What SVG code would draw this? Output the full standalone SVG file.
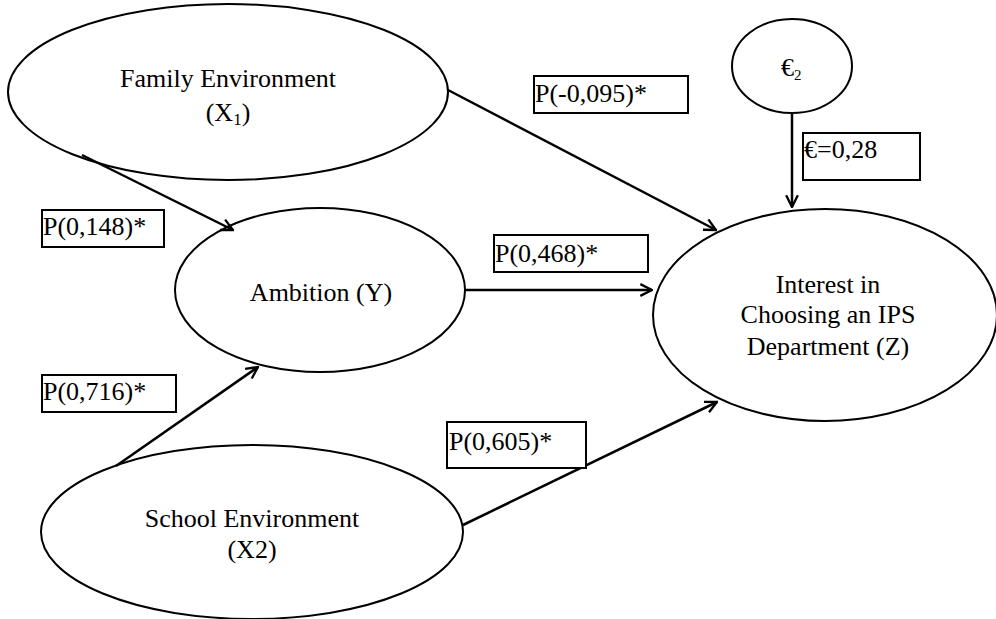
<svg xmlns="http://www.w3.org/2000/svg" width="996" height="619" viewBox="0 0 996 619">
<defs>
<style>
.node{fill:#fff;stroke:#000;stroke-width:2}
.t{font-family:"Liberation Serif","Times New Roman",serif;font-size:26px;fill:#000}
.c{text-anchor:middle}
.box{fill:#fff;stroke:#000;stroke-width:2}
.edge{stroke:#000;stroke-width:2.5;fill:none;marker-end:url(#arr)}
</style>
<marker id="arr" viewBox="0 0 12 12" refX="11" refY="6" markerWidth="14" markerHeight="14" markerUnits="userSpaceOnUse" orient="auto">
<path d="M1,1 L11,6 L1,11" fill="none" stroke="#000" stroke-width="2"/>
</marker>
</defs>
<rect width="996" height="619" fill="#fff"/>
<g id="family">
<ellipse class="node" cx="228" cy="92" rx="220" ry="88"/>
<text class="t c" x="228" y="87">Family Environment</text>
<text class="t c" x="228" y="121">(X<tspan font-size="17" dy="4">1</tspan><tspan dy="-4">)</tspan></text>
</g>
<g id="epsilon">
<ellipse class="node" cx="792" cy="66" rx="60" ry="47"/>
<text class="t" x="781" y="76">€<tspan font-size="15" dy="4">2</tspan></text>
</g>
<g id="ambition">
<ellipse class="node" cx="320" cy="290" rx="145" ry="82"/>
<text class="t c" x="321" y="301">Ambition (Y)</text>
</g>
<g id="interest">
<ellipse class="node" cx="825" cy="315" rx="172" ry="106"/>
<text class="t c" x="828" y="293">Interest in</text>
<text class="t c" x="828" y="323">Choosing an IPS</text>
<text class="t c" x="828" y="355">Department (Z)</text>
</g>
<g id="school">
<ellipse class="node" cx="252" cy="532" rx="211" ry="87"/>
<text class="t c" x="252" y="527">School Environment</text>
<text class="t c" x="252" y="558">(X2)</text>
</g>
<g id="connectors">
<line class="edge" x1="448" y1="90" x2="716" y2="230"/>
<line class="edge" x1="82" y1="155" x2="233" y2="230"/>
<line class="edge" x1="465" y1="290" x2="652" y2="290"/>
<line class="edge" x1="116" y1="466" x2="258" y2="367"/>
<line class="edge" x1="463" y1="525" x2="717" y2="402"/>
<line class="edge" x1="792" y1="113" x2="792" y2="207"/>
</g>
<g id="labels">
<rect class="box" x="534" y="76" width="154" height="37"/>
<text class="t" x="535" y="102">P(-0,095)*</text>
<rect class="box" x="803" y="133" width="117" height="47"/>
<text class="t" x="804" y="158">€=0,28</text>
<rect class="box" x="42" y="210" width="122" height="37"/>
<text class="t" x="43" y="235">P(0,148)*</text>
<rect class="box" x="494" y="235" width="154" height="37"/>
<text class="t" x="495" y="262">P(0,468)*</text>
<rect class="box" x="42" y="375" width="134" height="37"/>
<text class="t" x="43" y="400">P(0,716)*</text>
<rect class="box" x="447" y="422" width="139" height="46"/>
<text class="t" x="449" y="450">P(0,605)*</text>
</g>
</svg>
